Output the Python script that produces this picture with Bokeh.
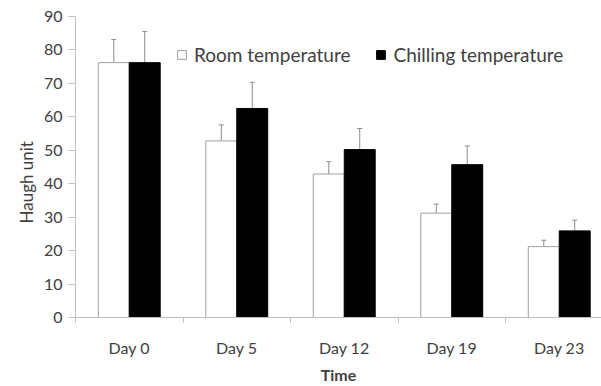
from bokeh.plotting import figure
from bokeh.models import (ColumnDataSource, Range1d, FixedTicker, Whisker, TeeHead,
                          Legend, LegendItem, Title)
from bokeh.embed import file_html
from bokeh.resources import INLINE
import numpy as np

categories = ["Day 0", "Day 5", "Day 12", "Day 19", "Day 23"]
room = [76.2, 52.8, 42.9, 31.2, 21.2]
room_err = [6.9, 4.8, 3.7, 2.7, 1.9]
chill = [76.2, 62.5, 50.2, 45.7, 25.9]
chill_err = [9.3, 7.8, 6.3, 5.6, 3.2]
series_names = ["Room temperature", "Chilling temperature"]
y_title = "Haugh unit"
x_title = "Time"

FONT = "Lato"
TXT = "#404040"
AX = "#bfbfbf"

idx = np.arange(len(categories))
centers = idx + 0.5
bw = 0.288
off = 0.144

src_r = ColumnDataSource(dict(x=centers - off, top=room,
                              up=np.array(room) + np.array(room_err)))
src_c = ColumnDataSource(dict(x=centers + off, top=chill,
                              up=np.array(chill) + np.array(chill_err)))

p = figure(width=601, height=386, output_backend="svg", toolbar_location=None,
           x_range=Range1d(0, 4.893), y_range=Range1d(0, 90),
           min_border_left=75, min_border_top=16, min_border_right=0,
           min_border_bottom=69)
p.outline_line_color = None
p.background_fill_color = "white"

r1 = p.vbar(x="x", top="top", width=bw, source=src_r, fill_color="white",
            line_color="#a0a0a0", line_width=1)
r2 = p.vbar(x="x", top="top", width=bw, source=src_c, fill_color="black",
            line_color="black", line_width=1)

for s in (src_r, src_c):
    w = Whisker(base="x", lower="top", upper="up", source=s,
                line_color="#8c8c8c", line_width=1,
                upper_head=TeeHead(size=5, line_color="#8c8c8c", line_width=1),
                lower_head=None)
    w.level = "underlay"
    p.add_layout(w)

# x axis
p.xaxis.ticker = FixedTicker(ticks=list(centers), minor_ticks=list(np.arange(len(categories) + 1)))
p.xaxis.major_label_overrides = {float(c): lab for c, lab in zip(centers, categories)}
p.xaxis.major_tick_line_color = None
p.xaxis.major_tick_out = 0
p.xaxis.major_tick_in = 0
p.xaxis.minor_tick_line_color = AX
p.xaxis.minor_tick_out = 5
p.xaxis.minor_tick_in = 0
p.xaxis.axis_line_color = AX
p.xaxis.major_label_standoff = 15
p.xaxis.major_label_text_font = FONT
p.xaxis.major_label_text_font_size = "16px"
p.xaxis.major_label_text_color = TXT
p.xaxis.axis_label = x_title
p.xaxis.axis_label_text_font = FONT
p.xaxis.axis_label_text_font_size = "16px"
p.xaxis.axis_label_text_font_style = "bold"
p.xaxis.axis_label_text_color = TXT
p.xaxis.axis_label_standoff = 5

# y axis
p.yaxis.ticker = FixedTicker(ticks=list(range(0, 91, 10)))
p.yaxis.minor_tick_line_color = None
p.yaxis.major_tick_out = 7
p.yaxis.major_tick_in = 0
p.yaxis.major_tick_line_color = AX
p.yaxis.axis_line_color = AX
p.yaxis.major_label_standoff = 6
p.yaxis.major_label_text_font = FONT
p.yaxis.major_label_text_font_size = "16px"
p.yaxis.major_label_text_color = TXT

ytitle = Title(text=y_title, align="left", offset=94, standoff=8,
               text_font=FONT, text_font_size="17px", text_font_style="normal",
               text_color=TXT)
p.add_layout(ytitle, "left")

p.xgrid.grid_line_color = None
p.ygrid.ticker = FixedTicker(ticks=[90])
p.ygrid.grid_line_color = AX

legend = Legend(items=[LegendItem(label=series_names[0], renderers=[r1]),
                       LegendItem(label=series_names[1], renderers=[r2])],
                orientation="horizontal", location=(101, 251),
                glyph_width=11, glyph_height=11, label_standoff=7, spacing=25,
                padding=0, margin=0, border_line_color=None,
                background_fill_alpha=0,
                label_text_font=FONT, label_text_font_size="19px",
                label_text_color=TXT, label_height=22)
p.add_layout(legend)

open("out.html", "w").write(file_html(p, INLINE))
